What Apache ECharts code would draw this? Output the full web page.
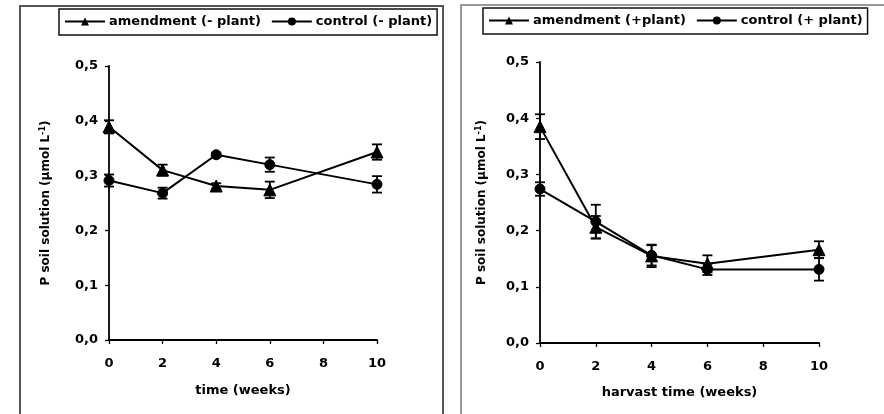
<!DOCTYPE html>
<html>
<head>
<meta charset="utf-8">
<script src="https://cdn.jsdelivr.net/npm/echarts@6/dist/echarts.min.js"></script>
<style>
html,body{margin:0;padding:0;background:#fff;}
#chart{width:884px;height:414px;}
</style>
</head>
<body>
<div id="chart"></div>
<script>
// ---- data ----
var weeks = [0, 2, 4, 6, 10];
var amendNoPlant = [0.389, 0.310, 0.281, 0.274, 0.343];
var amendNoPlantErr = [0.012, 0.010, 0.005, 0.015, 0.014];
var controlNoPlant = [0.291, 0.268, 0.338, 0.320, 0.284];
var controlNoPlantErr = [0.011, 0.010, 0.004, 0.013, 0.015];
var amendPlant = [0.385, 0.206, 0.155, 0.141, 0.166];
var amendPlantErr = [0.022, 0.020, 0.020, 0.015, 0.015];
var controlPlant = [0.274, 0.216, 0.156, 0.131, 0.131];
var controlPlantErr = [0.012, 0.030, 0.018, 0.010, 0.020];
var seriesNames = ['amendment (- plant)', 'control (- plant)', 'amendment (+plant)', 'control (+ plant)'];
var xTitles = ['time (weeks)', 'harvast time (weeks)'];
var yTitle = 'P soil solution (µmol L{sup|-1})';

var FONT = '"DejaVu Sans", "Liberation Sans", Arial, sans-serif';

function pairs(vals) { return weeks.map(function (w, i) { return [w, vals[i]]; }); }
function errData(vals, errs) { return weeks.map(function (w, i) { return [w, vals[i] - errs[i], vals[i] + errs[i]]; }); }

function errSeries(idx, vals, errs) {
  return {
    type: 'custom', xAxisIndex: idx, yAxisIndex: idx, silent: true, z: 3,
    data: errData(vals, errs),
    renderItem: function (params, api) {
      var x = api.value(0);
      var lo = api.coord([x, api.value(1)]);
      var hi = api.coord([x, api.value(2)]);
      var cw = 5;
      var st = { stroke: '#000', lineWidth: 1.8 };
      return {
        type: 'group', children: [
          { type: 'line', shape: { x1: lo[0], y1: lo[1], x2: hi[0], y2: hi[1] }, style: st },
          { type: 'line', shape: { x1: lo[0] - cw, y1: lo[1], x2: lo[0] + cw, y2: lo[1] }, style: st },
          { type: 'line', shape: { x1: hi[0] - cw, y1: hi[1], x2: hi[0] + cw, y2: hi[1] }, style: st }
        ]
      };
    }
  };
}

function lineSeries(idx, name, vals, sym, size) {
  return {
    type: 'line', name: name, xAxisIndex: idx, yAxisIndex: idx, z: 4,
    data: pairs(vals), symbol: sym, symbolSize: size, showSymbol: true,
    lineStyle: { color: '#000', width: 2 },
    itemStyle: { color: '#000', borderColor: '#000' },
    animation: false
  };
}

function xAxis(idx, title, gap) {
  return {
    type: 'value', gridIndex: idx, min: 0, max: 10, interval: 2,
    name: title, nameLocation: 'middle', nameGap: gap,
    nameTextStyle: { fontFamily: FONT, fontWeight: 'bold', fontSize: 13, color: '#000' },
    axisLine: { show: true, lineStyle: { color: '#000', width: 1.8 } },
    axisTick: { show: true, length: 4, lineStyle: { color: '#000', width: 1.3 } },
    axisLabel: { margin: 17, fontFamily: FONT, fontWeight: 'bold', fontSize: 13, color: '#000' },
    splitLine: { show: false }
  };
}

function yAxis(idx, gap) {
  return {
    type: 'value', gridIndex: idx, min: 0, max: 0.5, interval: 0.1,
    name: yTitle, nameLocation: 'middle', nameGap: gap, nameRotate: 90,
    nameTextStyle: {
      fontFamily: FONT, fontWeight: 'bold', fontSize: 12, color: '#000',
      rich: { sup: { fontFamily: FONT, fontWeight: 'bold', fontSize: 8, color: '#000', verticalAlign: 'top', padding: [0, 0, 5, 0] } }
    },
    axisLine: { show: true, lineStyle: { color: '#000', width: 1.8 } },
    axisTick: { show: true, length: 4, lineStyle: { color: '#000', width: 1.3 } },
    axisLabel: {
      margin: 11, fontFamily: FONT, fontWeight: 'bold', fontSize: 13, color: '#000',
      formatter: function (v) { return v.toFixed(1).replace('.', ','); }
    },
    splitLine: { show: false }
  };
}

function legend(left, top, names) {
  return {
    left: left, top: top, data: names, orient: 'horizontal',
    itemWidth: 40, itemHeight: 10, itemGap: 10,
    padding: [6, 5, 7, 5], borderColor: '#111', borderWidth: 1.5, borderRadius: 0,
    textStyle: { fontFamily: FONT, fontWeight: 'bold', fontSize: 13, color: '#000', padding: [0, 0, 0, -1] },
    selectedMode: false
  };
}

var chart = echarts.init(document.getElementById('chart'), null, { renderer: 'canvas' });
chart.setOption({
  backgroundColor: '#fff',
  animation: false,
  grid: [
    { left: 109, right: 507, top: 66, bottom: 74 },
    { left: 540, right: 65, top: 62, bottom: 71 }
  ],
  xAxis: [xAxis(0, xTitles[0], 44), xAxis(1, xTitles[1], 43)],
  yAxis: [yAxis(0, 57), yAxis(1, 52)],
  legend: [legend(59, 9, [seriesNames[0], seriesNames[1]]), legend(483, 8, [seriesNames[2], seriesNames[3]])],
  graphic: [
    { type: 'polyline', shape: { points: [[20, 414], [20, 6], [443, 6], [443, 414]] }, style: { stroke: '#555', lineWidth: 2, fill: null } },
    { type: 'polyline', shape: { points: [[461, 414], [461, 5], [884, 5]] }, style: { stroke: '#777', lineWidth: 1.5, fill: null } }
  ],
  series: [
    errSeries(0, amendNoPlant, amendNoPlantErr),
    errSeries(0, controlNoPlant, controlNoPlantErr),
    lineSeries(0, seriesNames[0], amendNoPlant, 'triangle', 12),
    lineSeries(0, seriesNames[1], controlNoPlant, 'circle', 10),
    errSeries(1, amendPlant, amendPlantErr),
    errSeries(1, controlPlant, controlPlantErr),
    lineSeries(1, seriesNames[2], amendPlant, 'triangle', 12),
    lineSeries(1, seriesNames[3], controlPlant, 'circle', 10)
  ]
});
</script>
</body>
</html>
